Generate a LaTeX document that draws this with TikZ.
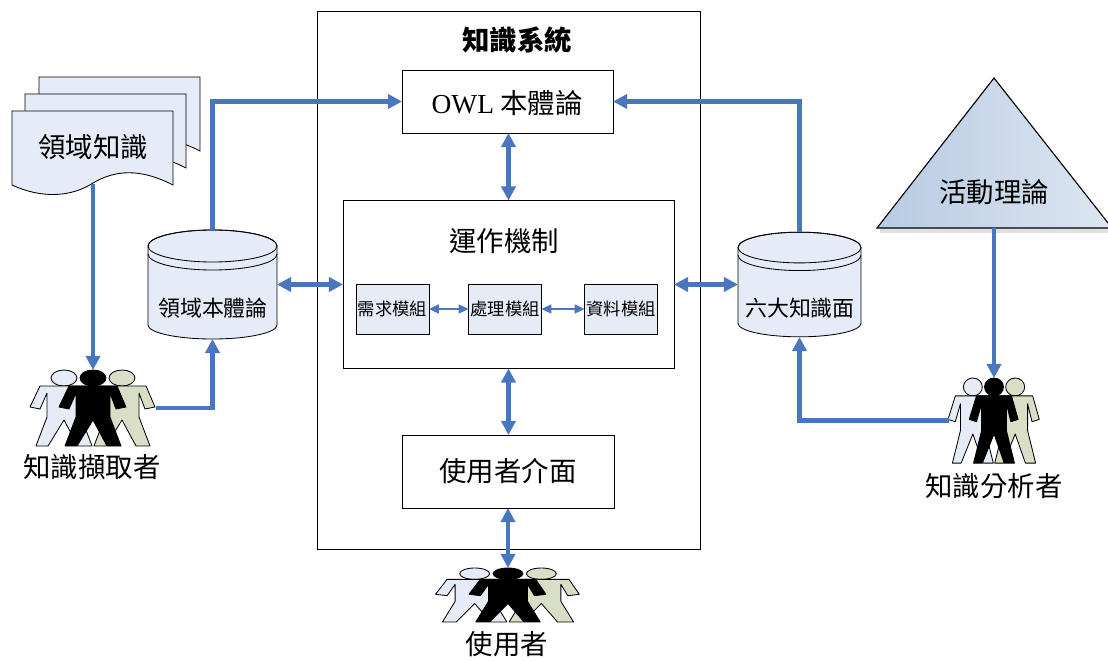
\documentclass[tikz,border=0pt]{standalone}
\usepackage{fontspec}
\usetikzlibrary{arrows.meta,calc}
\newfontfamily\cjk{Noto Sans CJK TC}
\newfontfamily\owlfont{Liberation Serif}
\def\px{.025cm}
\definecolor{c0}{HTML}{4876BF}
\definecolor{c1}{HTML}{E6ECF7}
\definecolor{c2}{HTML}{D9DFC7}
\definecolor{c3}{HTML}{B7CBE3}
\definecolor{c4}{HTML}{DDE6F2}
\tikzset{%
  frm/.style 2 args={inner sep=0,outer sep=0,minimum width=#1*\px,minimum height=#2*\px},
  boxw/.style 2 args={frm={#1}{#2},draw,line width=.6pt,fill=white},
  boxb/.style={frm={73}{50},draw,line width=.6pt,fill=c1,font=\cjk\fontsize{12.3}{14}\selectfont},
  lbl/.style={inner sep=0,font=\cjk\fontsize{19.5}{22}\selectfont},
  lbs/.style={inner sep=0,font=\cjk\fontsize{15.6}{18}\selectfont},
  link/.style={draw=c0,line width=2.9pt,-{Triangle[length=10pt,width=10pt]}},
  links/.style={draw=c0,line width=2.9pt,{Triangle[length=10pt,width=10pt]}-{Triangle[length=10pt,width=10pt]}},
  linkt/.style={draw=c0,line width=.9pt,{Triangle[length=7pt,width=6.5pt]}-{Triangle[length=7pt,width=6.5pt]}}
}
\NewDocumentCommand\sheet{}{%
  \draw[fill=c1,line width=.6pt] (12,111)--(173,111)--(173,185)
    .. controls (140,168) and (115,170) .. (93,183)
    .. controls (70,198) and (40,198) .. (12,185) -- cycle;
}
\NewDocumentCommand\dbase{}{%
  \draw[fill=c1,line width=.6pt] (-64.5,-38.5)--(-64.5,40.5)
    arc[start angle=180,end angle=0,x radius=64.5,y radius=14]
    --(64.5,-38.5) arc[start angle=0,end angle=-180,x radius=64.5,y radius=16] -- cycle;
  \draw[line width=.6pt] (0,-38.5) ellipse [x radius=64.5,y radius=16];
  \draw[line width=.6pt] (-64.5,-30.5) arc[start angle=180,end angle=0,x radius=64.5,y radius=16];
}
\NewDocumentCommand\figr{O{white}}{%
  \draw[fill=#1,line width=.6pt] (0,8) ellipse [x radius=13,y radius=8];
  \draw[fill=#1,line width=.6pt,line join=round] (-24,16)--(24,16)--(33,37)--(23,39)--(17,23)--(17,47)--(28,76)
    --(14,76)--(0,50)--(-16,76)--(-28,76)--(-17,47)--(-17,23)--(-24,39)--(-34,37)--cycle;
}
\NewDocumentCommand\persons{}{%
  \begin{scope}[shift={(-29,0)}]\figr[c1]\end{scope}
  \begin{scope}[shift={(29,0)}]\figr[c2]\end{scope}
  \figr[black]
}
\begin{document}
\begin{tikzpicture}[x=.025cm,y=-.025cm]
  \useasboundingbox (0,0) rectangle (1108,661);
  %% main frame
  \node[boxw={383}{538}] (sys) at (508.5,280) {};
  \node[lbl,font=\cjk\bfseries\fontsize{19.5}{22}\selectfont] (systitle) at (517,40) {知識系統};
  \node[boxw={211}{63}] (owl) at (507.5,101.5) {};
  \node[lbl] (owltxt) at (507,103) {{\owlfont OWL} 本體論};
  \node[boxw={331}{168}] (mech) at (508.5,284.5) {};
  \node[lbl] (mechtitle) at (504,241) {運作機制};
  \node[boxb] (req) at (392.5,309) {需求模組};
  \node[boxb] (proc) at (505,309) {處理模組};
  \node[boxb] (data) at (621,309) {資料模組};
  \node[boxw={212}{73},lbl] (ui) at (508,471.5) {使用者介面};
  %% documents
  \begin{scope}[shift={(27,-34)}]\sheet\end{scope}
  \begin{scope}[shift={(13,-17)}]\sheet\end{scope}
  \sheet
  \node[frm={161}{73},lbl] (doc) at (93,147.5) {領域知識};
  %% stores
  \begin{scope}[shift={(212.5,284.5)}]\dbase\end{scope}
  \begin{scope}[shift={(799.5,284.5)},xscale=.953,yscale=.96]\dbase\end{scope}
  \node[frm={129}{109}] (ontol) at (212.5,284.5) {};
  \node[frm={123}{105}] (facet) at (799.5,284.5) {};
  \node[lbs] (ontotxt) at (213,308) {領域本體論};
  \node[lbs] (facettxt) at (800,308) {六大知識面};
  %% theory
  \fill[c1!70!gray!60] (880,228) rectangle (1108,233);
  \draw[left color=c3,right color=c4,line width=.8pt] (994,78)--(1112,228)--(877,228)--cycle;
  \node[frm={231}{150}] (thy) at (994,153) {};
  \node[lbl] (thytxt) at (994,192) {活動理論};
  %% people
  \begin{scope}[shift={(93,370)}]\persons\end{scope}
  \begin{scope}[shift={(994,378)},xscale=.73,yscale=1.12]\persons\end{scope}
  \begin{scope}[shift={(508,568)},xscale=1.15,yscale=.71]\persons\end{scope}
  \node[frm={125}{76}] (acq) at (93,408) {};
  \node[frm={91}{85}] (ana) at (994,420.5) {};
  \node[frm={144}{54}] (usr) at (508,595) {};
  \node[lbl] (acqtxt) at (92,467) {知識擷取者};
  \node[lbl] (anatxt) at (994,486) {知識分析者};
  \node[lbl] (usrtxt) at (507,644) {使用者};
  %% connectors
  \draw[link] (doc.south)--(acq.north);
  \draw[link] (acq.east) -| (ontol.south);
  \draw[link] (ontol.north) |- (owl.west);
  \draw[link] (facet.north) |- (owl.east);
  \draw[link] (thy.south)--(ana.north);
  \draw[link] (ana.west) -| (facet.south);
  \draw[links] (ontol.east)--(mech.west);
  \draw[links] (facet.west)--(mech.east);
  \draw[links] (owl.south-|mech.center)--(mech.north);
  \draw[links] (mech.south)--(ui.north-|mech.south);
  \draw[links] (ui.south)--(usr.north);
  \draw[linkt] (req.east)--(proc.west);
  \draw[linkt] (proc.east)--(data.west);
\end{tikzpicture}
\end{document}
